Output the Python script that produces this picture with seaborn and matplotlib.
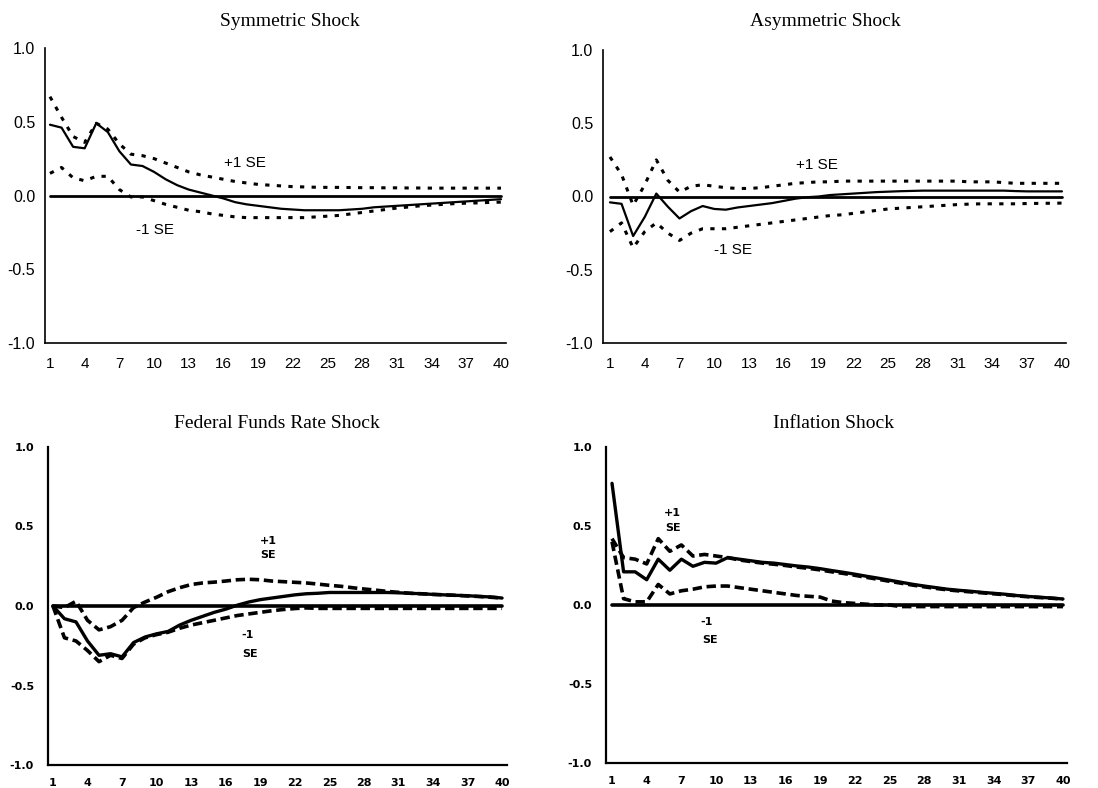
import matplotlib
matplotlib.use("Agg")
import matplotlib.pyplot as plt
import seaborn as sns

# ---------------- data ----------------
periods = list(range(1, 41))
xtick_labels = ["1", "4", "7", "10", "13", "16", "19", "22", "25", "28", "31", "34", "37", "40"]
ytick_values = [-1.0, -0.5, 0.0, 0.5, 1.0]
ytick_labels = ["-1.0", "-0.5", "0.0", "0.5", "1.0"]
zero_line = [0.0] * 40

titles = ["Symmetric Shock", "Asymmetric Shock", "Federal Funds Rate Shock", "Inflation Shock"]

sym_resp = [0.48, 0.46, 0.33, 0.32, 0.49, 0.43, 0.30, 0.21, 0.20, 0.16,
            0.11, 0.07, 0.04, 0.02, 0.0, -0.02, -0.045, -0.06, -0.07, -0.08,
            -0.09, -0.095, -0.10, -0.10, -0.10, -0.10, -0.095, -0.09, -0.08, -0.075,
            -0.07, -0.065, -0.06, -0.055, -0.05, -0.045, -0.04, -0.035, -0.03, -0.025]
sym_up = [0.67, 0.53, 0.40, 0.36, 0.49, 0.45, 0.35, 0.28, 0.27, 0.25,
          0.22, 0.19, 0.16, 0.14, 0.125, 0.11, 0.095, 0.085, 0.075, 0.07,
          0.065, 0.06, 0.058, 0.056, 0.055, 0.055, 0.054, 0.053, 0.053, 0.052,
          0.052, 0.051, 0.051, 0.05, 0.05, 0.05, 0.05, 0.05, 0.05, 0.05]
sym_lo = [0.15, 0.19, 0.12, 0.10, 0.13, 0.13, 0.04, -0.01, -0.01, -0.035,
          -0.06, -0.08, -0.10, -0.11, -0.125, -0.135, -0.145, -0.15, -0.15, -0.15,
          -0.15, -0.15, -0.15, -0.145, -0.14, -0.135, -0.125, -0.115, -0.105, -0.095,
          -0.085, -0.078, -0.07, -0.065, -0.06, -0.055, -0.052, -0.05, -0.047, -0.045]

asy_resp = [-0.04, -0.05, -0.27, -0.14, 0.02, -0.07, -0.15, -0.10, -0.065, -0.085,
            -0.09, -0.075, -0.065, -0.055, -0.045, -0.03, -0.015, -0.005, 0.0, 0.01,
            0.015, 0.02, 0.025, 0.03, 0.033, 0.036, 0.038, 0.04, 0.04, 0.04,
            0.04, 0.04, 0.04, 0.04, 0.04, 0.037, 0.035, 0.035, 0.035, 0.035]
asy_up = [0.27, 0.15, -0.06, 0.08, 0.25, 0.11, 0.03, 0.07, 0.08, 0.07,
          0.06, 0.055, 0.055, 0.06, 0.07, 0.08, 0.09, 0.095, 0.10, 0.10,
          0.105, 0.105, 0.105, 0.105, 0.105, 0.105, 0.105, 0.105, 0.105, 0.105,
          0.105, 0.10, 0.10, 0.10, 0.095, 0.09, 0.09, 0.09, 0.09, 0.09]
asy_lo = [-0.24, -0.18, -0.35, -0.24, -0.18, -0.25, -0.30, -0.25, -0.22, -0.22,
          -0.22, -0.21, -0.20, -0.19, -0.18, -0.17, -0.16, -0.15, -0.14, -0.13,
          -0.125, -0.115, -0.105, -0.095, -0.085, -0.08, -0.075, -0.07, -0.065, -0.06,
          -0.055, -0.052, -0.05, -0.05, -0.05, -0.05, -0.048, -0.047, -0.046, -0.045]

ffr_resp = [0.0, -0.08, -0.10, -0.22, -0.31, -0.30, -0.32, -0.23, -0.195, -0.175,
            -0.16, -0.12, -0.09, -0.065, -0.04, -0.02, 0.005, 0.025, 0.04, 0.05,
            0.06, 0.07, 0.077, 0.08, 0.085, 0.085, 0.085, 0.085, 0.085, 0.085,
            0.083, 0.08, 0.077, 0.073, 0.07, 0.067, 0.065, 0.06, 0.057, 0.05]
ffr_up = [0.0, -0.01, 0.03, -0.09, -0.15, -0.13, -0.09, -0.01, 0.025, 0.055,
          0.09, 0.115, 0.135, 0.145, 0.15, 0.157, 0.165, 0.168, 0.165, 0.157,
          0.153, 0.149, 0.145, 0.138, 0.13, 0.124, 0.115, 0.107, 0.10, 0.092,
          0.086, 0.08, 0.077, 0.073, 0.07, 0.067, 0.063, 0.06, 0.055, 0.05]
ffr_lo = [0.0, -0.20, -0.22, -0.28, -0.35, -0.31, -0.33, -0.24, -0.20, -0.18,
          -0.165, -0.14, -0.12, -0.105, -0.09, -0.075, -0.06, -0.05, -0.04, -0.03,
          -0.022, -0.016, -0.012, -0.015, -0.015, -0.015, -0.015, -0.015, -0.015, -0.015,
          -0.015, -0.015, -0.015, -0.015, -0.015, -0.015, -0.015, -0.015, -0.015, -0.015]

inf_resp = [0.77, 0.21, 0.21, 0.16, 0.29, 0.22, 0.29, 0.245, 0.27, 0.265,
            0.30, 0.29, 0.28, 0.27, 0.265, 0.256, 0.247, 0.24, 0.23, 0.218,
            0.207, 0.195, 0.182, 0.17, 0.157, 0.144, 0.131, 0.12, 0.11, 0.10,
            0.093, 0.087, 0.08, 0.074, 0.068, 0.06, 0.054, 0.049, 0.044, 0.038]
inf_up = [0.42, 0.30, 0.29, 0.26, 0.42, 0.34, 0.38, 0.31, 0.32, 0.31,
          0.30, 0.285, 0.275, 0.265, 0.258, 0.25, 0.24, 0.232, 0.222, 0.21,
          0.20, 0.188, 0.175, 0.163, 0.15, 0.138, 0.126, 0.115, 0.105, 0.096,
          0.089, 0.083, 0.077, 0.071, 0.065, 0.058, 0.052, 0.047, 0.043, 0.037]
inf_lo = [0.40, 0.04, 0.02, 0.02, 0.13, 0.07, 0.09, 0.10, 0.115, 0.12,
          0.12, 0.11, 0.10, 0.09, 0.08, 0.07, 0.06, 0.055, 0.05, 0.025,
          0.015, 0.01, 0.005, 0.0, 0.0, -0.01, -0.01, -0.01, -0.01, -0.01,
          -0.01, -0.01, -0.01, -0.01, -0.01, -0.01, -0.01, -0.01, -0.01, -0.01]

# ---------------- style ----------------
sns.set_theme(style="white")
plt.rcParams['font.family'] = ['Liberation Sans', 'DejaVu Sans']

W, H = 1098, 788
fig = plt.figure(figsize=(W / 100, H / 100), dpi=100)
fig.patch.set_facecolor("white")


def make_axes(left, top, right, bottom):
    return fig.add_axes([left / W, 1 - bottom / H, (right - left) / W, (bottom - top) / H])


panels = [
    dict(box=(45, 48, 506, 343), xlim=(0.57, 40.43), series=(sym_resp, sym_up, sym_lo),
         title=titles[0], tpos=(290, 22), kind="top",
         notes=[("+1 SE", 17.9, 0.217), ("-1 SE", 10.1, -0.237)]),
    dict(box=(603, 50, 1066, 343), xlim=(0.40, 40.35), series=(asy_resp, asy_up, asy_lo),
         title=titles[1], tpos=(825, 22), kind="top",
         notes=[("+1 SE", 18.9, 0.216), ("-1 SE", 11.6, -0.365)]),
    dict(box=(48, 447, 507, 765), xlim=(0.57, 40.43), series=(ffr_resp, ffr_up, ffr_lo),
         title=titles[2], tpos=(277, 423), kind="bottom",
         notes=[("+1", 19.7, 0.41), ("SE", 19.7, 0.32), ("-1", 17.9, -0.18), ("SE", 18.1, -0.30)]),
    dict(box=(606, 447, 1067, 763), xlim=(0.48, 40.35), series=(inf_resp, inf_up, inf_lo),
         title=titles[3], tpos=(834, 423), kind="bottom",
         notes=[("+1", 6.2, 0.58), ("SE", 6.3, 0.49), ("-1", 9.2, -0.11), ("SE", 9.5, -0.22)]),
]

label_at = {int(s): s for s in xtick_labels}

for p in panels:
    ax = make_axes(*p["box"])
    ax.set_facecolor("white")
    resp, up, lo = p["series"]
    top = p["kind"] == "top"
    lw_resp = 1.6 if top else 2.4
    lw_band = 2.2 if top else 2.6
    band_ls = (0, (1.4, 2.4)) if top else (0, (2.6, 1.3))
    lw_zero = 2.0 if top else 2.6

    sns.lineplot(x=periods, y=zero_line, ax=ax, color="black", linewidth=lw_zero)
    sns.lineplot(x=periods, y=up, ax=ax, color="black", linewidth=lw_band, linestyle=band_ls)
    sns.lineplot(x=periods, y=lo, ax=ax, color="black", linewidth=lw_band, linestyle=band_ls)
    sns.lineplot(x=periods, y=resp, ax=ax, color="black", linewidth=lw_resp)

    ax.set_xlim(*p["xlim"])
    ax.set_ylim(-1.0, 1.0)
    ax.set_xticks(periods)
    ax.set_xticklabels([label_at.get(t, "") for t in periods])
    ax.set_yticks(ytick_values)
    ax.set_yticklabels(ytick_labels)
    ax.set_xlabel("")
    ax.set_ylabel("")

    for s in ("top", "right"):
        ax.spines[s].set_visible(False)
    for s in ("left", "bottom"):
        ax.spines[s].set_color("black")
        ax.spines[s].set_linewidth(1.2 if top else 1.6)

    if top:
        ax.tick_params(axis="both", direction="out", length=4, width=1.0, color="black",
                       labelcolor="black", labelsize=11.5)
        ax.tick_params(axis="x", pad=6, labelsize=11)
        ax.tick_params(axis="y", pad=3)
        note_kw = dict(fontsize=11, fontfamily=['Liberation Sans', 'DejaVu Sans'])
    else:
        ax.tick_params(axis="both", direction="out", length=4, width=1.3, color="black",
                       labelcolor="black", labelsize=8)
        for lab in ax.get_xticklabels() + ax.get_yticklabels():
            lab.set_fontfamily(['DejaVu Sans'])
            lab.set_fontweight("bold")
        ax.tick_params(axis="x", pad=5)
        ax.tick_params(axis="y", pad=6)
        note_kw = dict(fontsize=8, fontweight="bold", fontfamily=['DejaVu Sans'])

    for txt, xv, yv in p["notes"]:
        ax.text(xv, yv, txt, ha="center", va="center", color="black", **note_kw)

    fig.text(p["tpos"][0] / W, 1 - p["tpos"][1] / H, p["title"], ha="center", va="center",
             fontsize=14, color="black", fontfamily=['Liberation Serif', 'DejaVu Serif'])

fig.savefig("out.png", dpi=100, facecolor="white")
